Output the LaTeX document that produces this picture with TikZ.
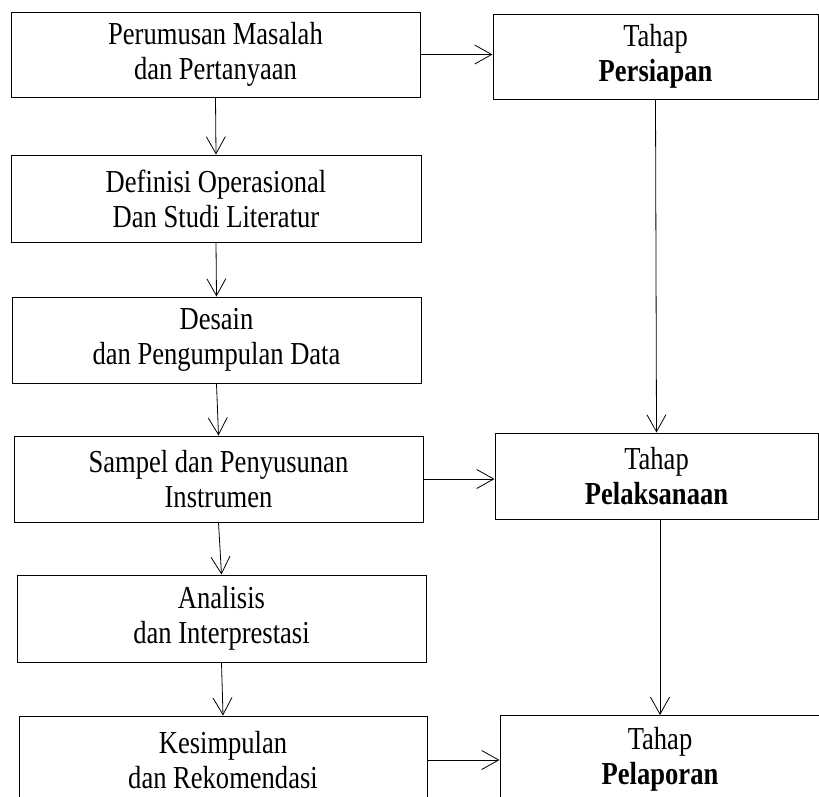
\documentclass[tikz,border=0pt]{standalone}
\usepackage{fontspec}
\setmainfont{Liberation Serif}[FakeStretch=0.83]
\usepackage{tikz}
\usetikzlibrary{arrows.meta, calc}

\begin{document}
\begin{tikzpicture}[x=1pt, y=-1pt,
        kotak/.style={draw, line width=1pt, align=center, inner sep=0pt,
            font=\fontsize{32}{35}\selectfont},
        panah/.style={line width=0.8pt, -{Straight Barb[length=17pt, width=19pt]}}]
        \useasboundingbox (0,0) rectangle (819,796);
        \begin{scope}
        \clip (0,0) rectangle (819,796);

        % kolom kiri
        \node[kotak, minimum width=409pt, minimum height=85pt] (rumusan) at (215.5,54.5) {Perumusan Masalah\\dan Pertanyaan};
        \node[kotak, minimum width=410pt, minimum height=87pt] (definisi) at (216,198.5) {Definisi Operasional\\Dan Studi Literatur};
        \node[kotak, minimum width=409pt, minimum height=86pt] (desain) at (216.5,340) {Desain\\dan Pengumpulan Data};
        \node[kotak, minimum width=409pt, minimum height=86pt] (sampel) at (218.5,479) {Sampel dan Penyusunan\\Instrumen};
        \node[kotak, minimum width=409pt, minimum height=87pt] (analisis) at (221.5,618.5) {Analisis\\dan Interprestasi};
        \node[kotak, minimum width=408pt, minimum height=88pt] (simpulan) at (223,760) {Kesimpulan\\dan Rekomendasi};

        % kolom kanan
        \node[kotak, minimum width=325pt, minimum height=85pt] (persiapan) at (655.5,56.5) {Tahap\\\textbf{Persiapan}};
        \node[kotak, minimum width=323pt, minimum height=86pt] (pelaksanaan) at (656.5,476) {Tahap\\\textbf{Pelaksanaan}};
        \node[kotak, minimum width=320pt, minimum height=88pt] (pelaporan) at (660,759.5) {Tahap\\\textbf{Pelaporan}};
        \end{scope}

        \draw[panah] (rumusan.south) -- (definisi.north);
        \draw[panah] (definisi.south) -- (desain.north);
        \draw[panah] (desain.south) -- (sampel.north);
        \draw[panah] (sampel.south) -- (analisis.north);
        \draw[panah] (analisis.south) -- (simpulan.north);

        \draw[panah] (rumusan.east) -- (rumusan.east -| persiapan.west);
        \draw[panah] (sampel.east) -- (sampel.east -| pelaksanaan.west);
        \draw[panah] (simpulan.east) -- (simpulan.east -| pelaporan.west);

        \draw[panah] (persiapan.south) -- (pelaksanaan.north);
        \draw[panah] (pelaporan.north |- pelaksanaan.south) -- (pelaporan.north);
    \end{tikzpicture}
\end{document}
